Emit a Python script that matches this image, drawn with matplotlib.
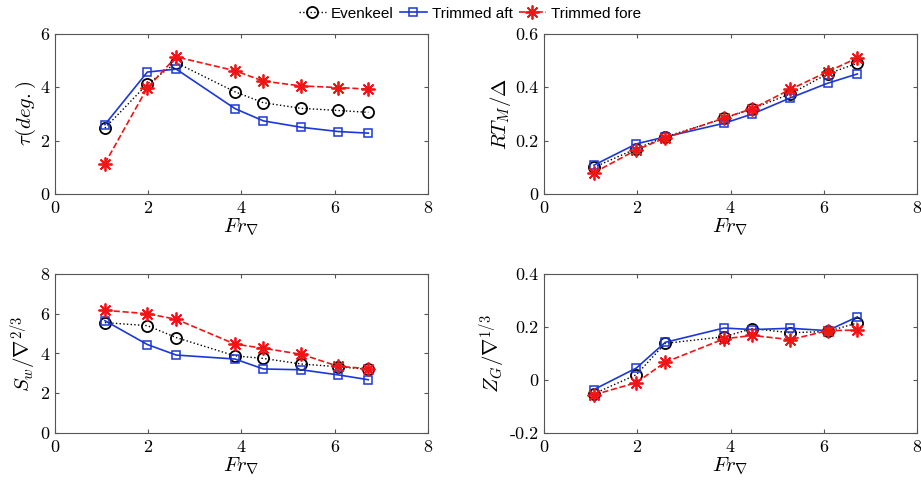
import matplotlib
matplotlib.use('Agg')
import matplotlib.pyplot as plt

plt.rcParams['font.family'] = 'serif'
plt.rcParams['font.serif'] = ['cmr10', 'DejaVu Serif']
plt.rcParams['mathtext.fontset'] = 'cm'
plt.rcParams['axes.formatter.use_mathtext'] = True

# dados
fr = [1.07, 1.98, 2.6, 3.86, 4.47, 5.28, 6.08, 6.72]

tau_even = [2.47, 4.12, 4.92, 3.83, 3.42, 3.21, 3.13, 3.06]
tau_aft = [2.6, 4.57, 4.68, 3.2, 2.74, 2.5, 2.34, 2.28]
tau_fore = [1.14, 3.98, 5.14, 4.62, 4.23, 4.05, 3.99, 3.93]

rt_even = [0.10, 0.17, 0.214, 0.283, 0.32, 0.375, 0.45, 0.49]
rt_aft = [0.108, 0.188, 0.214, 0.265, 0.30, 0.36, 0.415, 0.45]
rt_fore = [0.08, 0.165, 0.21, 0.285, 0.32, 0.392, 0.458, 0.51]

sw_even = [5.55, 5.4, 4.8, 3.88, 3.75, 3.47, 3.33, 3.2]
sw_aft = [5.65, 4.45, 3.92, 3.72, 3.22, 3.18, 2.92, 2.68]
sw_fore = [6.17, 6.0, 5.72, 4.47, 4.26, 3.96, 3.35, 3.24]

zg_even = [-0.052, 0.02, 0.138, 0.163, 0.194, 0.178, 0.183, 0.215]
zg_aft = [-0.036, 0.045, 0.142, 0.196, 0.19, 0.195, 0.186, 0.238]
zg_fore = [-0.056, -0.01, 0.067, 0.155, 0.168, 0.152, 0.186, 0.188]

paineis = [
    (tau_even, tau_aft, tau_fore, r'$\tau(deg.)$', (0, 6), [0, 2, 4, 6]),
    (rt_even, rt_aft, rt_fore, r'$RT_M/\Delta$', (0, 0.6), [0, 0.2, 0.4, 0.6]),
    (sw_even, sw_aft, sw_fore, r'$S_w/\nabla^{2/3}$', (0, 8), [0, 2, 4, 6, 8]),
    (zg_even, zg_aft, zg_fore, r'$Z_G/\nabla^{1/3}$', (-0.2, 0.4), [-0.2, 0, 0.2, 0.4]),
]

posicoes = [
    [0.0597, 0.6025, 0.405, 0.328],
    [0.5907, 0.6025, 0.405, 0.328],
    [0.0597, 0.1127, 0.405, 0.326],
    [0.5907, 0.1127, 0.405, 0.326],
]

azul = '#1c37d8'
vermelho = '#f01414'
asterisco = (8, 2, 0)

fig = plt.figure(figsize=(9.21, 4.88), dpi=100)
for (ev, aft, fore, ylab, ylim, yt), pos in zip(paineis, posicoes):
    ax = fig.add_axes(pos)
    l1, = ax.plot(fr, ev, color='black', ls=':', lw=1.0, marker='o', ms=8,
                  mfc='none', mew=1.3, label='Evenkeel')
    l2, = ax.plot(fr, aft, color=azul, ls='-', lw=1.2, marker='s', ms=5.5,
                  mfc='none', mew=1.1, label='Trimmed aft')
    l3, = ax.plot(fr, fore, color=vermelho, ls='--', lw=1.2, marker=asterisco,
                  ms=10, mew=1.3, label='Trimmed fore')
    ax.set_xlim(0, 8)
    ax.set_ylim(*ylim)
    ax.set_xticks([0, 2, 4, 6, 8])
    ax.set_yticks(yt)
    ax.set_yticklabels(['%g' % v for v in yt])
    ax.set_xlabel(r'$Fr_\nabla$', fontsize=15, labelpad=1)
    ax.set_ylabel(ylab, fontsize=15, labelpad=2)
    ax.tick_params(direction='in', top=True, right=True, labelsize=13,
                   color='#555555', length=3, pad=4)
    for s in ax.spines.values():
        s.set_color('#555555')
        s.set_linewidth(0.8)

fig.legend(handles=[l1, l2, l3], loc='center', bbox_to_anchor=(0.51, 0.972),
           ncol=3, frameon=False, prop={'family': 'Liberation Sans', 'size': 11},
           handlelength=1.8, handletextpad=0.3, columnspacing=0.4)

fig.savefig('out.png', dpi=100)
